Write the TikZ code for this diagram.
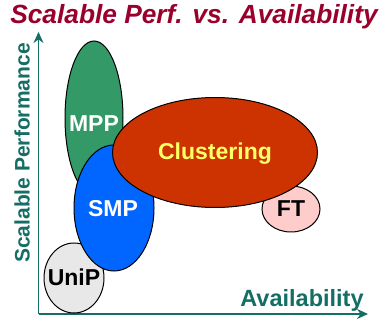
\documentclass[tikz,border=0pt]{standalone}
\usepackage{fontspec}
\setmainfont{Liberation Sans}
\usetikzlibrary{arrows.meta}
\definecolor{titlered}{RGB}{153,0,45}
\definecolor{axisteal}{RGB}{20,110,100}
\definecolor{mppgreen}{RGB}{51,153,102}
\definecolor{clusterred}{RGB}{204,51,0}
\definecolor{smpblue}{RGB}{0,102,255}
\definecolor{ftpink}{RGB}{255,204,204}
\definecolor{unigray}{RGB}{232,232,232}
\definecolor{labelyellow}{RGB}{255,255,102}
\begin{document}
\begin{tikzpicture}[x=1pt,y=-1pt,
  blob/.style={draw=black,line width=1pt},
  blobtext/.style={font=\fontsize{23}{26}\selectfont\bfseries},
  axis/.style={draw=axisteal,line width=1.8pt,-{Stealth[length=11pt,width=10pt]}},
  axislabel/.style={text=axisteal,font=\fontsize{23.5}{26}\selectfont\bfseries}]
\useasboundingbox (0,0) rectangle (380,320);
% title
\node[text=titlered,font=\fontsize{26.3}{29}\selectfont\bfseries\itshape] (title) at (194,17) {Scalable Perf. vs. Availability};
% axes
\coordinate (origin) at (38.5,314);
\coordinate (ytip) at (38.5,32);
\coordinate (xtip) at (368,314);
\draw[axis] (origin) -- (ytip);
\draw[axis] (origin) -- (xtip);
\node[axislabel,rotate=90,font=\fontsize{21}{24}\selectfont\bfseries] (ylab) at (22,153) {Scalable Performance};
\node[axislabel] (xlab) at (302,300) {Availability};
% regions, back to front
\filldraw[blob,fill=ftpink] (291,209) ellipse [x radius=29,y radius=23];
\filldraw[blob,fill=unigray] (74,278) ellipse [x radius=30,y radius=35];
\filldraw[blob,fill=mppgreen] (94,118) ellipse [x radius=29,y radius=77];
\filldraw[blob,fill=smpblue] (114,208) ellipse [x radius=40,y radius=63];
\filldraw[blob,fill=clusterred] (215,152.5) ellipse [x radius=102.5,y radius=55];
% labels
\node[blobtext,text=white] (mpp) at (94,124) {MPP};
\node[blobtext,text=white] (smp) at (113,209) {SMP};
\node[blobtext,text=labelyellow] (clu) at (215,154) {Clustering};
\node[blobtext,text=black] (ft) at (291,209) {FT};
\node[blobtext,text=black] (unip) at (74,277) {UniP};
\end{tikzpicture}
\end{document}
